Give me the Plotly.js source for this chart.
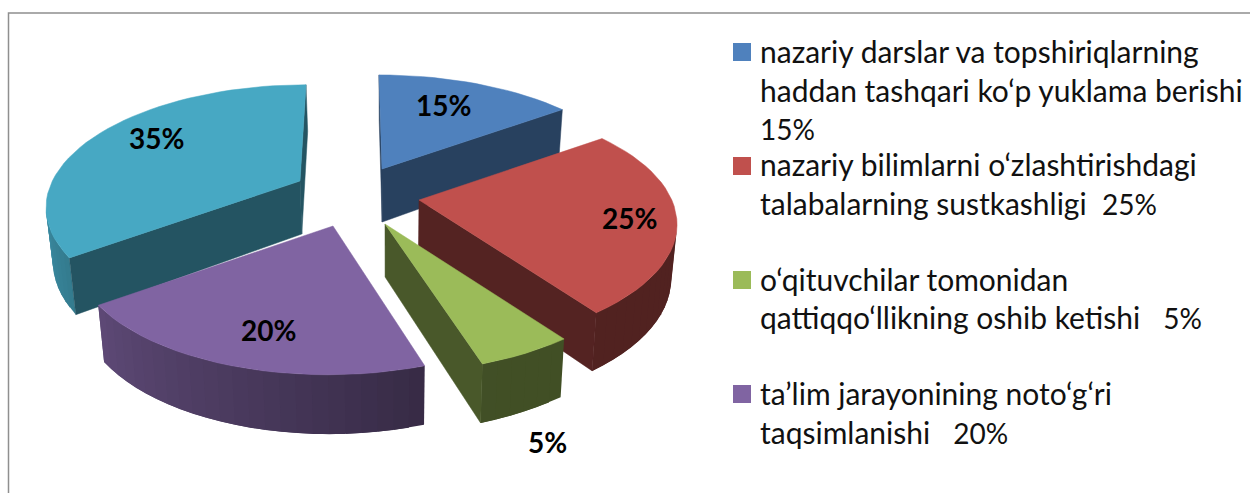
<!DOCTYPE html>
<html><head><meta charset="utf-8">
<script src="https://cdn.plot.ly/plotly-3.0.1.min.js"></script>
<style>html,body{margin:0;padding:0;background:#fff}#chart{width:1250px;height:493px}</style>
</head><body><div id="chart"></div>
<script>
// ---- data ----
const sliceNames = ["nazariy darslar va topshiriqlarning haddan tashqari ko‘p yuklama berishi",
  "nazariy bilimlarni o‘zlashtirishdagi talabalarning sustkashligi",
  "o‘qituvchilar tomonidan qattiqqo‘llikning oshib ketishi",
  "ta’lim jarayonining noto‘g‘ri taqsimlanishi",
  ""];
const shares = [15, 25, 5, 20, 35];
const legendLines = [
  ["nazariy darslar va topshiriqlarning", "haddan tashqari ko‘p yuklama berishi", ""],
  ["nazariy bilimlarni o‘zlashtirishdagi", "talabalarning sustkashligi"],
  ["o‘qituvchilar tomonidan", "qattiqqo‘llikning oshib ketishi"],
  ["ta’lim jarayonining noto‘g‘ri", "taqsimlanishi"]
];
const legendValues = ["15%", "25%", "5%", "20%"];
// ---- styling and layout ----
const colors = ["#4f81bd", "#c0504d", "#9bbb59", "#8064a2", "#47a8c3"];
const drawOrder = [4, 0, 1, 2, 3];
const apexX = [382, 419, 385, 333, 300];
const apexY = [169, 200, 224, 226, 181];
const radScale = [0.975, 0.98, 0.99, 0.98, 0.96];
const yScale = [1.02, 1.05, 1.06, 1.07, 1.06];
const lean = [-3, 0, 0, 5, 6];
const wallShade = [0.5, 0.44, 0.47, 0.5, 0.5];
const valueGap = [0, 2, 3, 3];
const labelX = [443, 629, 547, 268, 156];
const labelY = [105, 218, 442, 330, 138];
const legendRowY = [[51, 90, 129], [164, 203], [279, 317], [393, 432]];
const swatchY = [52, 166, 280, 394];
const R = 258, TILT = 0.44, PERSP = 0.2, DEPTH = 53, VANISH_X = 390, FONT = "Lato, 'Open Sans', sans-serif";

function project(i, deg, r) {
  const a = deg * Math.PI / 180;
  const X = r * Math.sin(a), Y = r * Math.cos(a);
  const s = radScale[i] / (1 + PERSP * Y);
  return {x: apexX[i] + X * s * R + lean[i] * Y, y: apexY[i] - Y * s * R * TILT * yScale[i], Y};
}
function lower(p) {
  return {x: p.x + (VANISH_X - p.x) * 0.02, y: p.y + DEPTH * (1 - 0.12 * p.Y)};
}
function hex(c, f) {
  const n = parseInt(c.slice(1), 16);
  const ch = [n >> 16, (n >> 8) & 255, n & 255].map(v => Math.round(v * f));
  return `rgb(${ch[0]},${ch[1]},${ch[2]})`;
}
function shade(deg) {
  if (deg <= 160) return 0.42;
  return Math.min(0.42 + (deg - 160) / 110 * 0.46, 0.9);
}
function poly(pts, color, name, lineWidth) {
  return {type: "scatter", mode: "lines", x: pts.map(p => p.x), y: pts.map(p => p.y), fill: "toself",
    fillcolor: color, line: {color, width: lineWidth}, hoverinfo: name ? "text" : "skip", text: name || "", showlegend: false};
}

const traces = [];
const starts = [];
shares.reduce((sum, v, i) => (starts[i] = sum, sum + v), 0);

drawOrder.forEach(i => {
  const a0 = starts[i] * 3.6, a1 = (starts[i] + shares[i]) * 3.6;
  const n = Math.max(6, Math.round((a1 - a0) / 3));
  const apex = project(i, 0, 0);
  const arc = [];
  for (let k = 0; k <= n; k++) {
    const deg = a0 + (a1 - a0) * k / n;
    arc.push(Object.assign(project(i, deg, 1), {deg}));
  }
  const wall = (p, q, color, w) => traces.push(poly([p, q, lower(q), lower(p), p], color, "", w));
  // curved rim, shaded strip by strip; each strip runs under the next so no seams show
  for (let k = 0; k < n; k++) {
    if (arc[k + 1].x < arc[k].x) {
      const end = k + 2 <= n && arc[k + 2].x < arc[k + 1].x ? arc[k + 2] : arc[k + 1];
      wall(arc[k], end, hex(colors[i], shade((arc[k].deg + arc[k + 1].deg) / 2)), 0);
    }
  }
  // flat cut faces, shown only when the edge runs leftwards on screen
  if (apex.x > arc[0].x) wall(apex, arc[0], hex(colors[i], wallShade[i]), 0.5);
  if (arc[n].x > apex.x) wall(arc[n], apex, hex(colors[i], wallShade[i]), 0.5);
  traces.push(poly([apex, ...arc, apex], colors[i], sliceNames[i] ? sliceNames[i] + " " + shares[i] + "%" : "", 0.5));
});

// legend swatches
traces.push({type: "scatter", mode: "markers", x: swatchY.map(() => 742), y: swatchY,
  marker: {symbol: "square", size: 18, color: colors.slice(0, 4), line: {width: 0}}, hoverinfo: "skip", showlegend: false});

const annotations = [];
shares.forEach((v, i) => annotations.push({x: labelX[i], y: labelY[i], xref: "x", yref: "y", text: "<b>" + v + "%</b>",
  showarrow: false, xanchor: "center", yanchor: "middle", font: {family: FONT, size: 28, color: "#000"}}));
legendLines.forEach((rows, i) => rows.forEach((t, j) => {
  let text = t;
  if (j === rows.length - 1) text += "\u00a0".repeat(valueGap[i]) + '<span style="font-size:28px">' + legendValues[i] + "</span>";
  annotations.push({x: 760, y: legendRowY[i][j], xref: "x", yref: "y", text, showarrow: false,
    xanchor: "left", yanchor: "middle", xshift: -2, font: {family: FONT, size: 30, color: "#111"}});
}));

Plotly.newPlot("chart", traces, {
  width: 1250, height: 493, margin: {l: 0, r: 0, t: 0, b: 0}, paper_bgcolor: "#fff", plot_bgcolor: "#fff",
  showlegend: false, hovermode: "closest",
  xaxis: {range: [0, 1250], visible: false, fixedrange: true},
  yaxis: {range: [493, 0], visible: false, fixedrange: true},
  shapes: [{type: "path", path: "M 8.5 493 L 8.5 13 L 1250 13", xref: "x", yref: "y", line: {color: "#8f8f8f", width: 1.5}}],
  annotations
}, {displayModeBar: false});
</script></body></html>
